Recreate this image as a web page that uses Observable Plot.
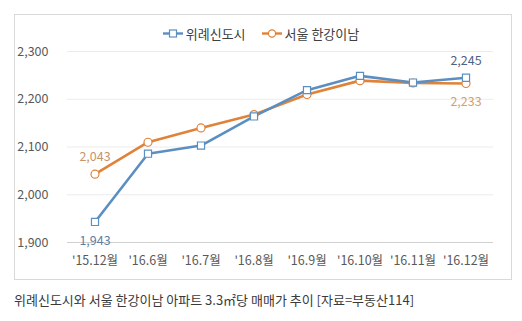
<!DOCTYPE html>
<html><head><meta charset="utf-8">
<script src="https://cdn.jsdelivr.net/npm/d3@7"></script>
<script src="https://cdn.jsdelivr.net/npm/@observablehq/plot@0.6"></script>
<style>
body{margin:0;background:#fff;font-family:"Noto Sans CJK KR","Noto Sans",sans-serif;}
#wrap{position:relative;width:522px;height:321px;}
#box{position:absolute;left:14px;top:14px;width:496px;height:264px;border:1px solid #d9d9d9;}
#chart{position:absolute;left:0;top:0;}
#legend{position:absolute;top:24px;left:0;width:522px;text-align:center;font-size:13px;color:#404040;}
#legend span.item{display:inline-flex;align-items:center;margin:0 8px;}
#caption{position:absolute;left:14px;top:290px;font-size:13px;color:#3a3a3a;white-space:nowrap;}
</style></head>
<body><div id="wrap"><div id="box"></div><div id="chart"></div><div id="legend"></div><div id="caption"></div></div>
<script>
const categories = ["'15.12월","'16.6월","'16.7월","'16.8월","'16.9월","'16.10월","'16.11월","'16.12월"];
const wirye = [1943, 2086, 2103, 2164, 2219, 2249, 2235, 2245];
const seoul = [2043, 2110, 2140, 2168, 2210, 2239, 2234, 2233];
const seriesNames = ["위례신도시","서울 한강이남"];
const colors = ["#5b8fc2","#e0833a"];
const yTicks = [1900, 2000, 2100, 2200, 2300];
const caption = "위례신도시와 서울 한강이남 아파트 3.3㎡당 매매가 추이 [자료=부동산114]";

const rows = [];
categories.forEach((c,i)=>{
  rows.push({cat:c, v:wirye[i], s:seriesNames[0]});
  rows.push({cat:c, v:seoul[i], s:seriesNames[1]});
});
const w = rows.filter(d=>d.s===seriesNames[0]);
const s = rows.filter(d=>d.s===seriesNames[1]);
const fmt = d3.format(",");
const labels = [
  {cat:categories[0], v:seoul[0], dy:-17, c:"#c8946a"},
  {cat:categories[0], v:wirye[0], dy:19, c:"#5f7ea3"},
  {cat:categories[7], v:wirye[7], dy:-17, c:"#4d6386"},
  {cat:categories[7], v:seoul[7], dy:19, c:"#d4a072"}
];

const chart = Plot.plot({
  width:522, height:280,
  marginTop:51, marginBottom:38, marginLeft:67, marginRight:29,
  style:{fontFamily:"'Noto Sans CJK KR', sans-serif", fontSize:"12.5px", color:"#595959", background:"transparent"},
  x:{type:"band", domain:categories, padding:0, label:null, tickSize:0, tickPadding:14},
  y:{domain:[1900,2300], ticks:yTicks, tickFormat:fmt, label:null, tickSize:0, tickPadding:19},
  marks:[
    Plot.ruleY(yTicks.filter(t=>t>1900), {stroke:"#ececec", strokeWidth:1}),
    Plot.ruleY([1900], {stroke:"#d0d0d0", strokeWidth:1}),
    Plot.line(s, {x:"cat", y:"v", stroke:colors[1], strokeWidth:2.6}),
    Plot.line(w, {x:"cat", y:"v", stroke:colors[0], strokeWidth:2.6}),
    Plot.dot(s, {x:"cat", y:"v", r:4, fill:"white", stroke:colors[1], strokeWidth:1.2}),
    Plot.dot(w, {x:"cat", y:"v", symbol:"square", r:4, fill:"white", stroke:colors[0], strokeWidth:1.2}),
    ...labels.map(l=>Plot.text([l], {x:"cat", y:"v", text:d=>fmt(d.v), dy:l.dy, fill:l.c, fontSize:12.5}))
  ]
});
document.getElementById("chart").appendChild(chart);

const legend = document.getElementById("legend");
seriesNames.forEach((n,i)=>{
  const item = document.createElement("span"); item.className="item";
  const sym = i===0
    ? `<rect x="6.5" y="3" width="7" height="7" fill="white" stroke="${colors[0]}" stroke-width="1.2"/>`
    : `<circle cx="10" cy="6.5" r="3.6" fill="white" stroke="${colors[1]}" stroke-width="1.2"/>`;
  item.innerHTML = `<svg width="20" height="13" style="margin-right:3px"><line x1="0" x2="20" y1="6.5" y2="6.5" stroke="${colors[i]}" stroke-width="2.4"/>${sym}</svg>${n}`;
  legend.appendChild(item);
});
document.getElementById("caption").textContent = caption;
</script></body></html>
